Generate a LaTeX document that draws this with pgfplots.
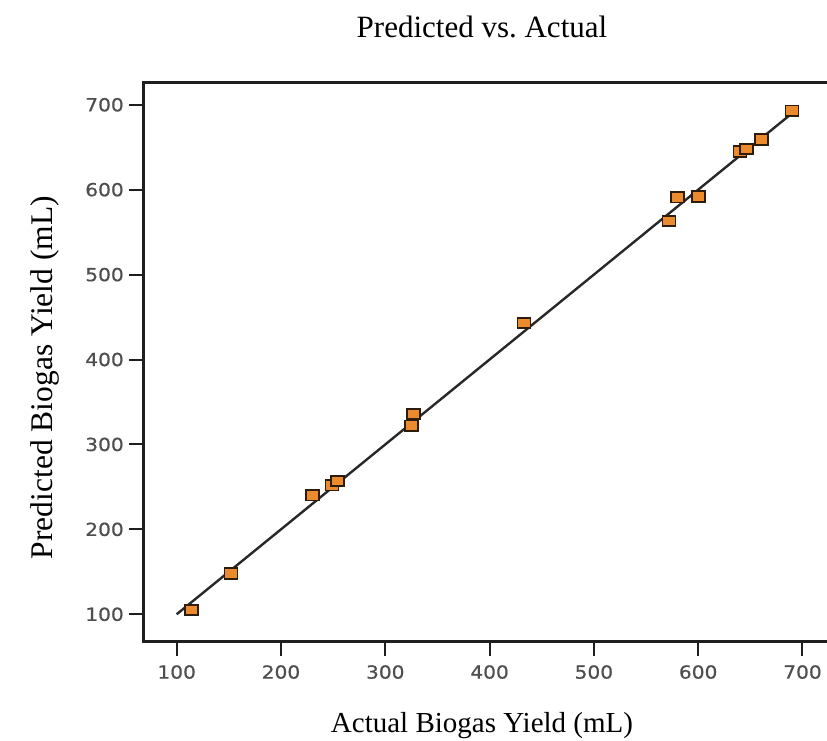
\documentclass[border=0pt]{standalone}
\usepackage{fontspec}
\setmainfont{Liberation Serif}
\newfontfamily\tickfont[FakeStretch=1.12, FakeBold=0.6]{DejaVu Sans}
\usepackage{pgfplots}
\pgfplotsset{compat=1.18}
\definecolor{tickgray}{RGB}{78,78,78}
\definecolor{spine}{RGB}{30,30,30}
\definecolor{markfill}{RGB}{236,138,46}
\definecolor{markedge}{RGB}{45,28,12}
\definecolor{fitline}{RGB}{40,40,40}

% predicted vs. actual biogas yield (mL)
\pgfplotstableread{
actual predicted
114 105
152 148
230 240
249 252
254 257
325 322
327 336
433 443
572 563
580 591
600 592
640 645
646 648
661 659
690 693
}\yielddata

\begin{document}
\begin{tikzpicture}[x=1pt,y=1pt]
\begin{axis}[
  at={(0,0)}, anchor=south west,
  width=683.7pt, height=559pt, scale only axis,
  xmin=68, xmax=723.5, ymin=67.7, ymax=726,
  axis x line*=bottom, axis y line*=left,
  axis line style={line width=3pt, spine, line cap=rect},
  xtick={100,200,...,700}, ytick={100,200,...,700},
  tick align=outside, major tick length=14pt,
  tick style={line width=2pt, spine},
  ticklabel style={font=\tickfont\fontsize{18}{20}\selectfont, text=tickgray},
  xticklabel style={yshift=-6pt},
  yticklabel style={xshift=-2pt},
  /pgf/number format/assume math mode=true,
  clip=false,
]
% fitted 1:1 line
\addplot[fitline, line width=2.4pt] coordinates {(100,100) (695,695)};
% observations
\addplot[only marks, mark=square*, mark size=5.2pt,
  mark options={xscale=1.25, fill=markfill, draw=markedge, line width=1.8pt}]
  table[x=actual, y=predicted] {\yielddata};
% top frame line
\draw[line width=3pt, spine, line cap=rect] (rel axis cs:0,1) -- (rel axis cs:1,1);
\end{axis}
\node[anchor=base, font=\fontsize{31}{36}\selectfont] at (338.7,603.7) {Predicted vs.\ Actual};
\node[anchor=base, font=\fontsize{29}{34}\selectfont] at (338.7,-91) {Actual Biogas Yield (mL)};
\node[anchor=base, rotate=90, font=\fontsize{31.5}{36}\selectfont] at (-90.3,264.2) {Predicted Biogas Yield (mL)};
\pgfresetboundingbox
\path[use as bounding box] (-143.3,-98.3) rectangle (683.7,641.7);
\end{tikzpicture}
\end{document}
